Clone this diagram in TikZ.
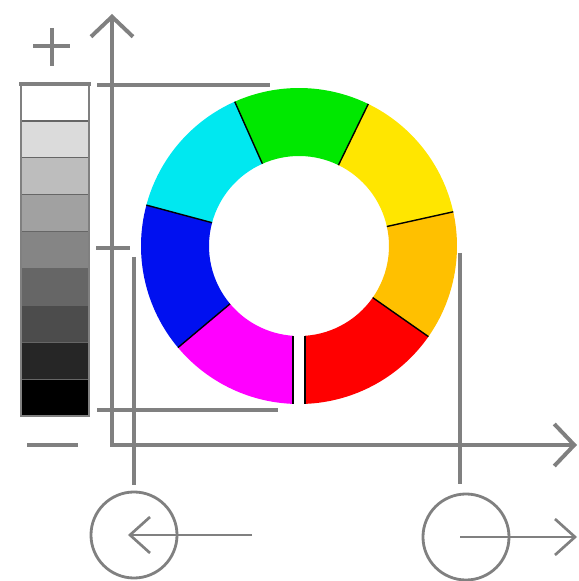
\documentclass[tikz,border=0pt]{standalone}
\usetikzlibrary{arrows.meta, positioning, calc}
\definecolor{axisgray}{RGB}{128,128,128}
\definecolor{ringgreen}{RGB}{0,232,0}
\definecolor{ringyellow}{RGB}{255,230,0}
\definecolor{ringorange}{RGB}{255,192,0}
\definecolor{ringred}{RGB}{255,0,0}
\definecolor{ringmagenta}{RGB}{255,0,255}
\definecolor{ringblue}{RGB}{0,16,240}
\definecolor{ringcyan}{RGB}{0,232,240}
\tikzset{
    axis/.style={draw=axisgray, line width=2.8pt},
    axisarrow/.style={axis, {Straight Barb[length=0.5cm, width=1.05cm, line width=2.8pt]}-{Straight Barb[length=0.5cm, width=1.05cm, line width=2.8pt]}},
    guide/.style={draw=axisgray, line width=2.6pt},
    dial/.style={circle, draw=axisgray, line width=2pt, minimum size=2.15cm, inner sep=0pt},
    dialarrow/.style={draw=axisgray, line width=1.9pt, -{Straight Barb[length=0.5cm, width=0.9cm, line width=1.9pt]}},
    cut/.style={draw=black, line width=1pt}
}
\begin{document}
\begin{tikzpicture}[x=0.025cm, y=0.025cm]

    \useasboundingbox (0,0) rectangle (579,581);

    % Gray scale bar
    \foreach \i/\shade in {0/0, 1/14, 2/26, 3/37, 4/48, 5/60, 6/70, 7/85, 8/100}
        \fill[black!\shade] (21,{497-\i*36.9}) rectangle (89,{497-(\i+1)*36.9});
    \foreach \i in {1,...,8}
        \draw[black!60, line width=0.9pt] (21,{497-\i*36.9}) -- (89,{497-\i*36.9});
    \draw[axisgray, line width=0.9pt] (21,165) rectangle (89,497);
    \draw[guide] (19,497) -- (91,497);

    % Plus and minus signs
    \draw[guide] (33,535) -- (70,535);
    \draw[guide] (52,553) -- (52,515);
    \draw[guide] (27,136) -- (78,136);

    % Axes
    \coordinate (origin) at (112,136);
    \coordinate (ytip) at (112,567);
    \coordinate (xtip) at (577,136);
    \draw[axisarrow] (ytip) -- (origin) -- (xtip);

    % Guide lines
    \draw[guide] (97,496) -- (270,496);
    \draw[guide] (97,171) -- (278,171);
    \draw[guide] (96,333) -- (130,333);

    % Colour ring
    \begin{scope}[shift={(299,335)}]
        \foreach \a/\b/\col in {12.5/64/ringyellow, 64/114/ringgreen, 114/165/ringcyan, 165/220/ringblue,
                                220/270/ringmagenta, 270/325/ringred, -35/12.5/ringorange}
            \fill[\col] (\a:158) arc (\a:\b:158) -- (\b:90) arc (\b:\a:90) -- cycle;
        \foreach \a in {12.5, 64, 114, 165, 220, 325}
            \draw[cut] (\a:90) -- (\a:158);
        % gap at the bottom
        \fill[white] (-6,-162) rectangle (6,-85);
        \draw[cut] (-6,-89.8) -- (-6,-157.9);
        \draw[cut] (6,-89.8) -- (6,-157.9);
    \end{scope}

    % Dials
    \node (dialL) [dial] at (134,46) {};
    \node (dialR) [dial] at (466,44) {};
    \coordinate (guideL) at (134,324);
    \coordinate (guideR) at (460,328);
    \coordinate (pullL) at (252,46);
    \coordinate (pushR) at (577,44);
    \draw[guide, shorten >=4pt] (guideL) -- (guideL |- dialL.north);
    \draw[guide, shorten >=6pt] (guideR) -- (guideR |- dialR.north);
    \draw[dialarrow] (pullL) -- ([xshift=-0.15cm]dialL.center);
    \draw[dialarrow] ([xshift=-0.15cm]dialR.center) -- (pushR);

\end{tikzpicture}
\end{document}
